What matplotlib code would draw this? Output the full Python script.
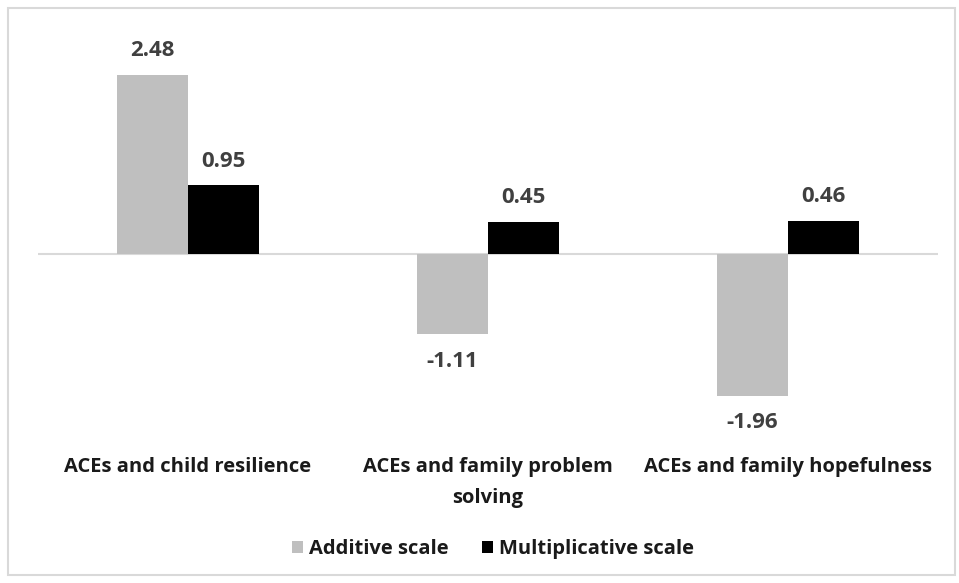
import matplotlib
matplotlib.use("Agg")
import matplotlib.pyplot as plt
import numpy as np
from matplotlib.patches import Rectangle

categories = ["ACEs and child resilience",
              "ACEs and family problem\nsolving",
              "ACEs and family hopefulness"]
additive = [2.48, -1.11, -1.96]
multiplicative = [0.95, 0.45, 0.46]
series_names = ["Additive scale", "Multiplicative scale"]

plt.rcParams["font.family"] = ["Open Sans", "DejaVu Sans"]
FS = 14.5
FS_VAL = 16

W, H = 959, 583
fig = plt.figure(figsize=(W / 100, H / 100), dpi=100)
fig.patch.set_facecolor("white")

# light frame round the chart area
fig.patches.append(Rectangle((8 / W, 8 / H), 947 / W, 567 / H,
                             transform=fig.transFigure, fill=False,
                             edgecolor="#d9d9d9", linewidth=1.5))

ax = fig.add_axes([38 / W, 1 - 434.5 / H, 900 / W, 397 / H])
x = np.arange(len(categories))
w = 0.237

b1 = ax.bar(x - w / 2, additive, w, color="#bfbfbf", label=series_names[0], zorder=2)
b2 = ax.bar(x + w / 2, multiplicative, w, color="#000000", label=series_names[1], zorder=2)

ax.axhline(0, color="#d9d9d9", linewidth=1.5, zorder=1)
ax.set_xlim(-0.5, 2.5)
ax.set_ylim(-2.5, 3.0)

for bars in (b1, b2):
    for r in bars:
        v = r.get_height()
        xc = r.get_x() + r.get_width() / 2
        if v >= 0:
            ax.annotate(f"{v:.2f}", (xc, v), xytext=(0, 10), textcoords="offset points",
                        ha="center", va="bottom", fontsize=FS_VAL, fontweight="bold",
                        color="#404040")
        else:
            ax.annotate(f"{v:.2f}", (xc, v), xytext=(0, -12), textcoords="offset points",
                        ha="center", va="top", fontsize=FS_VAL, fontweight="bold",
                        color="#404040")

ax.set_xticks(x)
ax.set_xticklabels(categories, fontsize=FS, fontweight="bold", color="#1a1a1a",
                   linespacing=1.75)
ax.tick_params(axis="x", length=0, pad=16)
ax.set_yticks([])
for s in ax.spines.values():
    s.set_visible(False)

leg = fig.legend(handles=[b1, b2], labels=series_names, loc="center",
                 bbox_to_anchor=(493 / W, 1 - 549 / H), ncol=2, frameon=False,
                 prop={"size": FS, "weight": "bold"}, handlelength=0.5,
                 handleheight=0.5, handletextpad=0.3, columnspacing=1.7)
for t in leg.get_texts():
    t.set_color("#1a1a1a")

fig.savefig("out.png", dpi=100, facecolor="white")
